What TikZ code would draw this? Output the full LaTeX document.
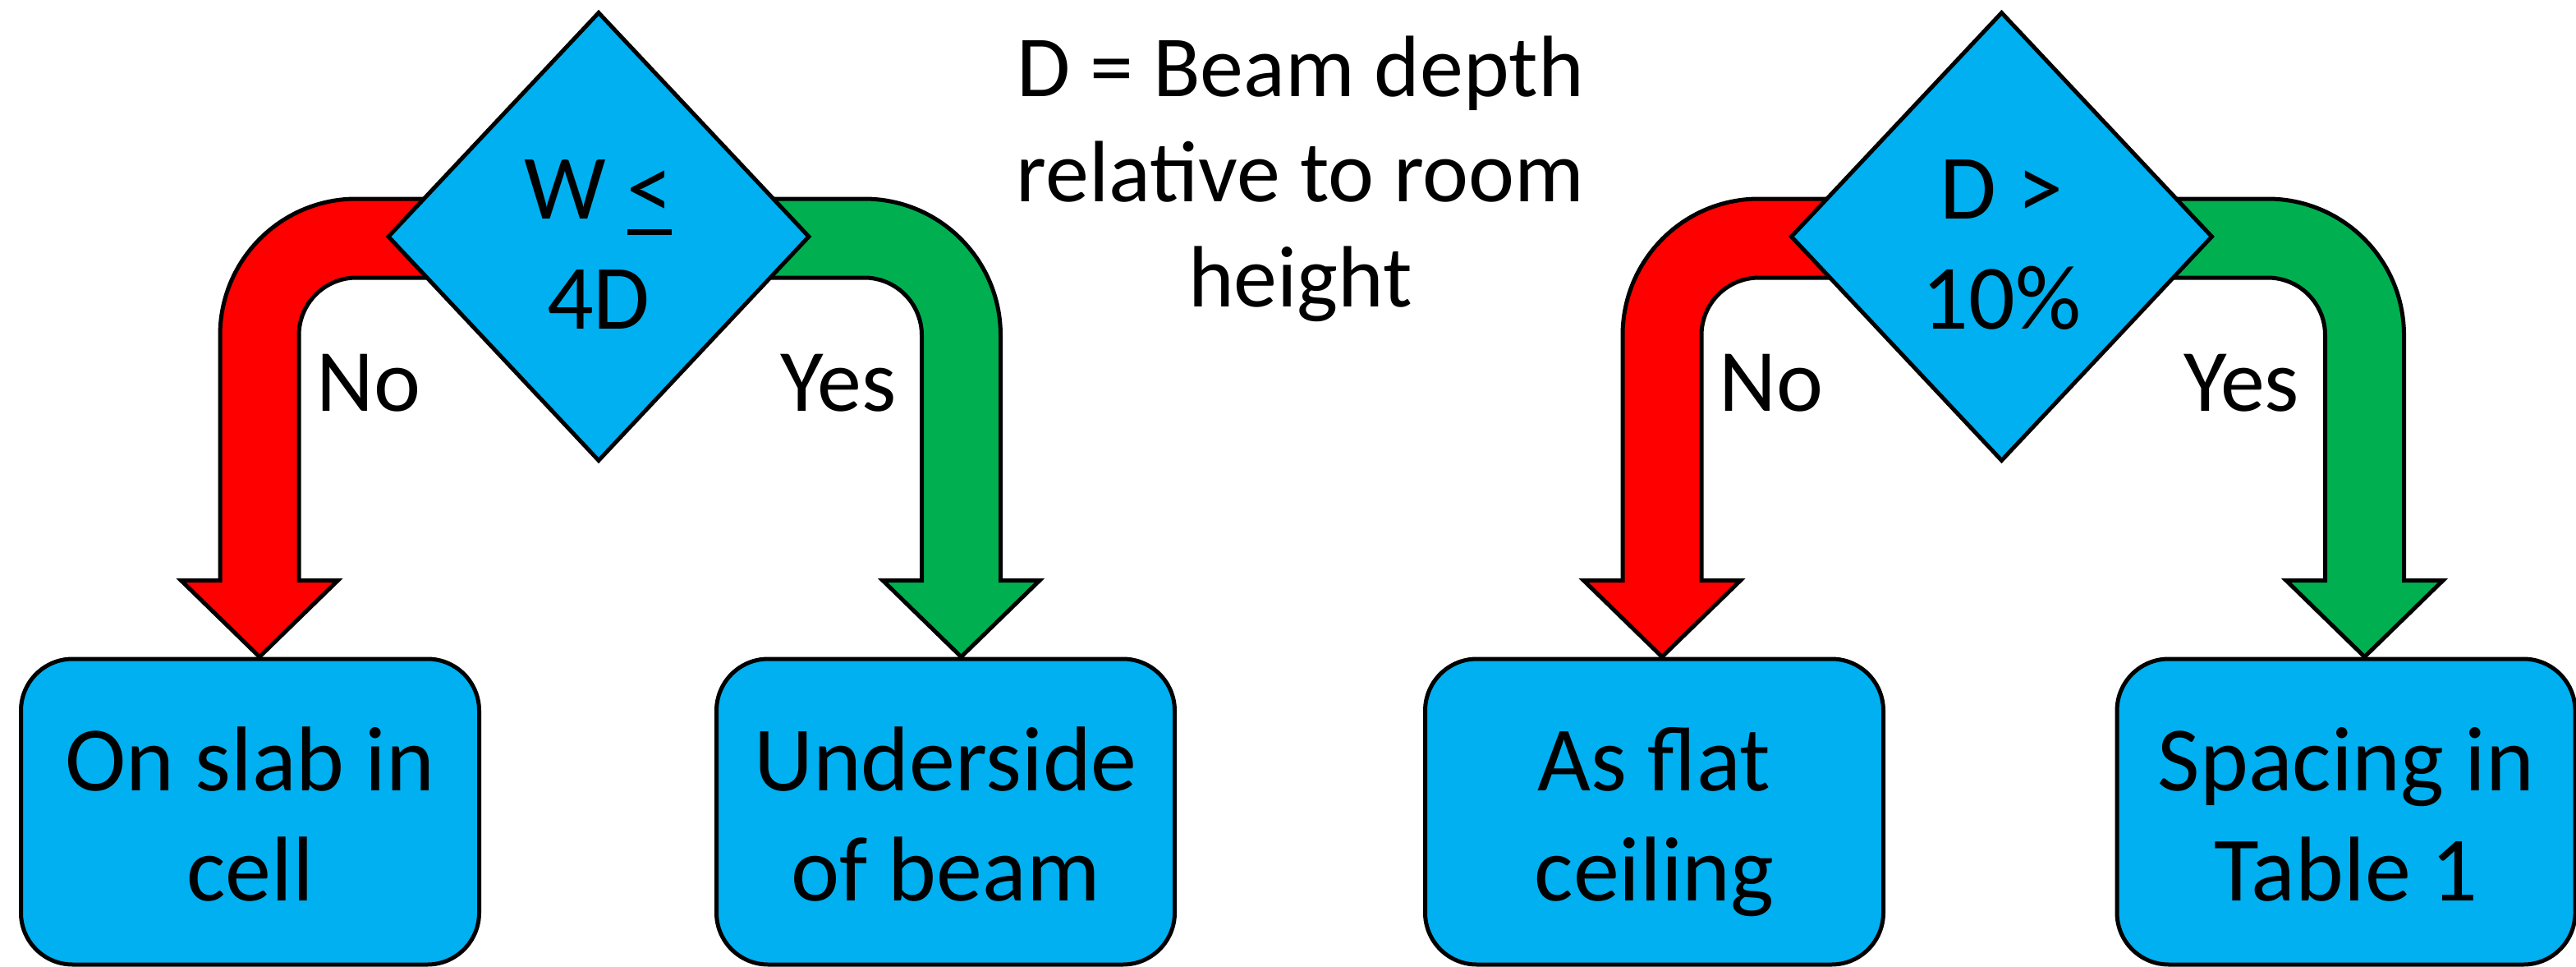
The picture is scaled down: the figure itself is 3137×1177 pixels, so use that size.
\documentclass[tikz,border=0pt]{standalone}
\usepackage{fontspec}
\setmainfont{Carlito}
\usetikzlibrary{shapes.geometric,calc,backgrounds}
\definecolor{boxblue}{HTML}{00B0F0}
\definecolor{nored}{HTML}{FF0000}
\definecolor{yesgreen}{HTML}{00B050}
\newcommand\uleq{\makebox[0pt][l]{\rule[-0.176em]{0.49em}{0.0625em}}<}
\newcommand\twoline[2]{\begin{tabular}[t]{@{}c@{}}#1\\#2\end{tabular}}
% #1 colour, #2 decision node, #3 outcome node, #4 shaft offset (px), #5 side (-1 left, +1 right)
% outer corner radius 83pt (k-offset 37.16pt), inner corner radius 35pt (k-offset 15.67pt)
\newcommand\decarrow[5]{%
 \draw[bigarrow,fill=#1] let \p1=(#2.center), \p2=(#3.north) in
  ({\x1},{\y1+23pt})
  -- ({\x1+(#4)*0.5pt+(#5)*24pt-(#5)*83pt},{\y1+23pt})
  .. controls ({\x1+(#4)*0.5pt+(#5)*24pt-(#5)*37.16pt},{\y1+23pt})
         and ({\x1+(#4)*0.5pt+(#5)*24pt},{\y1+23pt-37.16pt}) ..
     ({\x1+(#4)*0.5pt+(#5)*24pt},{\y1+23pt-83pt})
  -- ({\x1+(#4)*0.5pt+(#5)*24pt},{\y2+46.5pt})
  -- ({\x1+(#4)*0.5pt+(#5)*47.75pt},{\y2+46.5pt})
  -- ({\x1+(#4)*0.5pt},{\y2})
  -- ({\x1+(#4)*0.5pt-(#5)*47.75pt},{\y2+46.5pt})
  -- ({\x1+(#4)*0.5pt-(#5)*24pt},{\y2+46.5pt})
  -- ({\x1+(#4)*0.5pt-(#5)*24pt},{\y1-25pt-35pt})
  .. controls ({\x1+(#4)*0.5pt-(#5)*24pt},{\y1-25pt-15.67pt})
         and ({\x1+(#4)*0.5pt-(#5)*24pt-(#5)*15.67pt},{\y1-25pt}) ..
     ({\x1+(#4)*0.5pt-(#5)*24pt-(#5)*35pt},{\y1-25pt})
  -- ({\x1},{\y1-25pt}) -- cycle;}
\begin{document}
\begin{tikzpicture}[x=0.5pt,y=-0.5pt,
  outline/.style={draw=black,line width=2.5pt},
  decision/.style={outline,fill=boxblue,shape=diamond,inner sep=0pt,
    minimum width=257pt,minimum height=273.5pt,
    font=\fontsize{56pt}{67pt}\selectfont,text height=10pt,text depth=31.3pt},
  outcome/.style={outline,fill=boxblue,rectangle,rounded corners=31.5pt,inner sep=0pt,
    minimum width=279pt,minimum height=186pt,
    font=\fontsize{56pt}{67pt}\selectfont,text height=10pt,text depth=35.5pt},
  answer/.style={font=\fontsize{54pt}{65pt}\selectfont,inner sep=0pt},
  keynote/.style={font=\fontsize{53pt}{64pt}\selectfont,inner sep=0pt},
  bigarrow/.style={draw=black,line width=2.5pt,line join=miter,sharp corners}]
\useasboundingbox (0,0) rectangle (3137,1177);

\node[decision] (d1) at (729,288) {\twoline{W \uleq}{4D}};
\node[decision] (d2) at (2437.5,288) {\twoline{D >}{10\%}};

\node[outcome] (b1) at (304.5,988) {\twoline{On slab in}{cell}};
\node[outcome] (b2) at (1151.5,988) {\twoline{Underside}{of beam}};
\node[outcome] (b3) at (2014.5,988) {\twoline{As flat}{ceiling}};
\node[outcome] (b4) at (2857,988) {\twoline{Spacing in}{Table 1}};

\node[answer,anchor=base west] (n1) at (385,500.6) {No};
\node[answer,anchor=base east] (y1) at (1092,500.6) {Yes};
\node[answer,anchor=base west] (n2) at (2093.5,500.6) {No};
\node[answer,anchor=base east] (y2) at (2800.5,500.6) {Yes};

\node[keynote,anchor=base] (key) at (1583.5,117.3)
  {\begin{tabular}[t]{@{}c@{}}D = Beam depth\\relative to room\\height\end{tabular}};

\begin{pgfonlayer}{background}
\decarrow{nored}{d1}{b1}{-413}{-1}
\decarrow{yesgreen}{d1}{b2}{441.5}{1}
\decarrow{nored}{d2}{b3}{-413.5}{-1}
\decarrow{yesgreen}{d2}{b4}{442}{1}
\end{pgfonlayer}
\end{tikzpicture}
\end{document}
